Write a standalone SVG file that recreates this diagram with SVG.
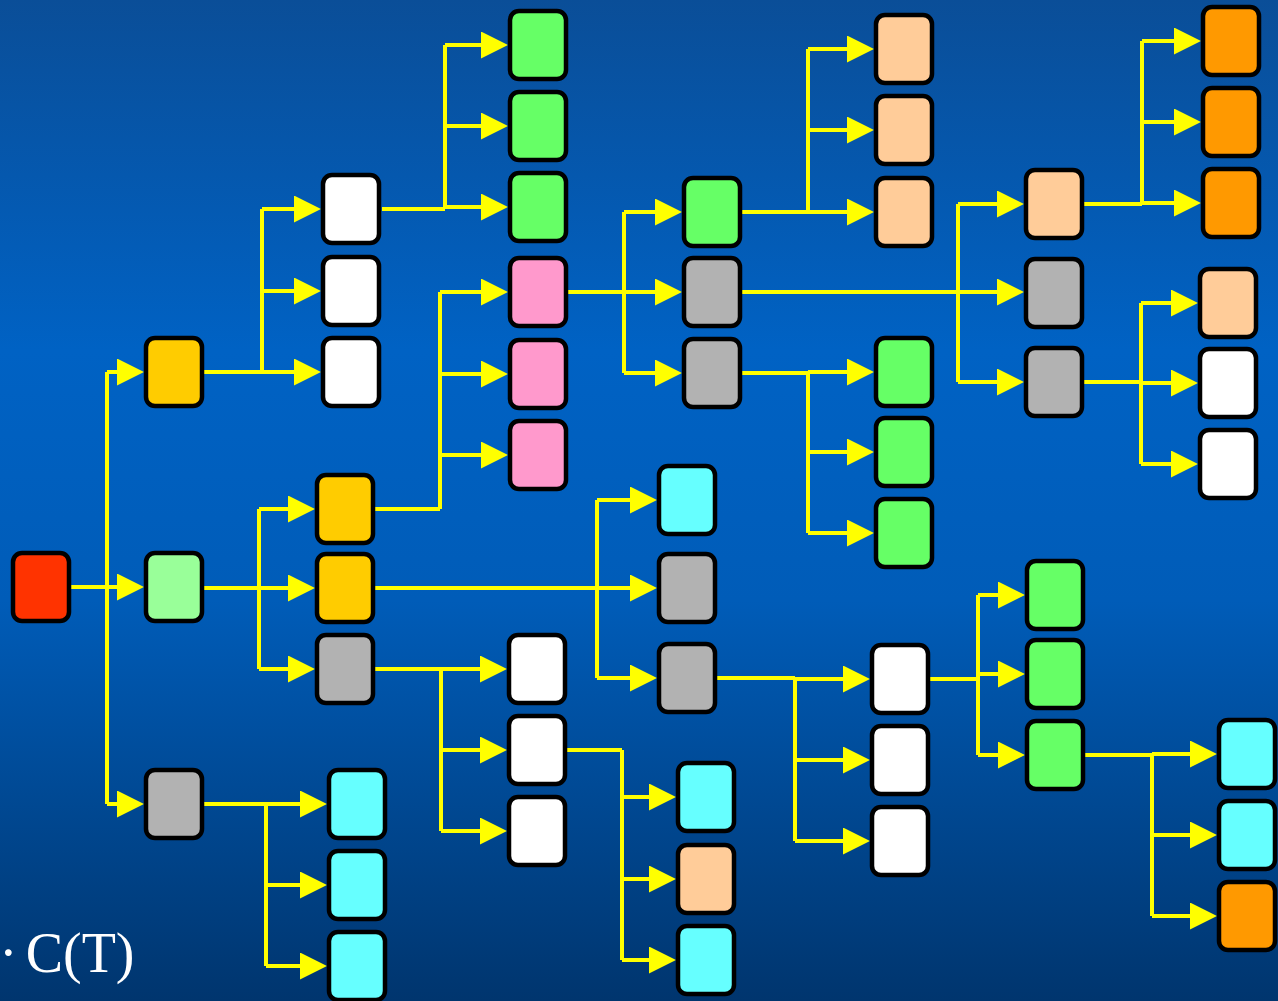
<svg xmlns="http://www.w3.org/2000/svg" width="1278" height="1001" viewBox="0 0 1278 1001">
  <defs>
    <linearGradient id="bg" x1="0" y1="0" x2="0" y2="1">
      <stop offset="0" stop-color="#0a4e98"/>
      <stop offset="0.35" stop-color="#0062c4"/>
      <stop offset="0.6" stop-color="#005cb8"/>
      <stop offset="1" stop-color="#00356e"/>
    </linearGradient>
    <marker id="arrow" viewBox="0 0 27 27" refX="0" refY="13.5" markerWidth="27" markerHeight="27" markerUnits="userSpaceOnUse" orient="auto">
      <path d="M0,0 L27,13.5 L0,27 Z" fill="#ffff00"/>
    </marker>
    <rect id="box" width="56" height="68" rx="9" ry="9"/>
  </defs>
  <style>
    .links path { fill: none; stroke: #ffff00; stroke-width: 4; }
    .links path.br { marker-end: url(#arrow); }
    .node use { stroke: #000; stroke-width: 4.5; }
    .red use { fill: #ff3300; }
    .lgreen use { fill: #99ff99; }
    .orange use { fill: #ffcc00; }
    .white use { fill: #ffffff; }
    .gray use { fill: #b2b2b2; }
    .cyan use { fill: #66ffff; }
    .green use { fill: #66ff66; }
    .pink use { fill: #ff99cc; }
    .peach use { fill: #ffcc99; }
    .dorange use { fill: #ff9900; }
    .label { font-family: "Liberation Serif", "Times New Roman", serif; font-size: 56px; fill: #ffffff; word-spacing: -6px; }
  </style>

  <rect width="1278" height="1001" fill="url(#bg)"/>

  <!-- connectors: stem from parent, vertical trunk, arrowed branch to each child -->
  <g id="connectors" class="links">
    <!-- n0 -->
    <path d="M71,587 H107 M107,372 V804"/>
    <path class="br" d="M107,372 H117"/><path class="br" d="M107,587 H117"/><path class="br" d="M107,804 H117"/>
    <!-- a1 -->
    <path d="M204,372 H262 M262,209 V372"/>
    <path class="br" d="M262,209 H294"/><path class="br" d="M262,291 H294"/><path class="br" d="M262,372 H294"/>
    <!-- a2 -->
    <path d="M204,588 H259 M259,509 V669"/>
    <path class="br" d="M259,509 H288"/><path class="br" d="M259,588 H288"/><path class="br" d="M259,669 H288"/>
    <!-- a3 -->
    <path d="M204,804 H266 M266,804 V966"/>
    <path class="br" d="M266,804 H300"/><path class="br" d="M266,885 H300"/><path class="br" d="M266,966 H300"/>
    <!-- b1 -->
    <path d="M382,209 H445 M445,45 V209"/>
    <path class="br" d="M445,45 H481"/><path class="br" d="M445,126 H481"/><path class="br" d="M445,207 H481"/>
    <!-- b4 -->
    <path d="M375,509 H440 M440,292 V509"/>
    <path class="br" d="M440,292 H481"/><path class="br" d="M440,374 H481"/><path class="br" d="M440,455 H481"/>
    <!-- b5 -->
    <path d="M375,588 H597 M597,500 V678"/>
    <path class="br" d="M597,500 H630"/><path class="br" d="M597,588 H630"/><path class="br" d="M597,678 H630"/>
    <!-- b6 -->
    <path d="M375,669 H441 M441,669 V831"/>
    <path class="br" d="M441,669 H480"/><path class="br" d="M441,750 H480"/><path class="br" d="M441,831 H480"/>
    <!-- c4 -->
    <path d="M568,292 H624 M624,212 V373"/>
    <path class="br" d="M624,212 H655"/><path class="br" d="M624,292 H655"/><path class="br" d="M624,373 H655"/>
    <!-- c8 -->
    <path d="M567,750 H622 M622,750 V960"/>
    <path class="br" d="M622,797 H649"/><path class="br" d="M622,879 H649"/><path class="br" d="M622,960 H649"/>
    <!-- d1 -->
    <path d="M742,212 H808 M808,49 V212"/>
    <path class="br" d="M808,49 H847"/><path class="br" d="M808,130 H847"/><path class="br" d="M808,212 H847"/>
    <!-- d2 -->
    <path d="M742,292 H958 M958,204 V382"/>
    <path class="br" d="M958,204 H997"/><path class="br" d="M958,292 H997"/><path class="br" d="M958,382 H997"/>
    <!-- d3 -->
    <path d="M742,373 H808 M808,372 V533"/>
    <path class="br" d="M808,372 H847"/><path class="br" d="M808,452 H847"/><path class="br" d="M808,533 H847"/>
    <!-- d6 -->
    <path d="M717,678 H795 M795,678 V841"/>
    <path class="br" d="M795,679 H843"/><path class="br" d="M795,760 H843"/><path class="br" d="M795,841 H843"/>
    <!-- e7 -->
    <path d="M930,679 H978 M978,595 V755"/>
    <path class="br" d="M978,595 H998"/><path class="br" d="M978,674 H998"/><path class="br" d="M978,755 H998"/>
    <!-- f1 -->
    <path d="M1084,204 H1142 M1142,41 V204"/>
    <path class="br" d="M1142,41 H1174"/><path class="br" d="M1142,122 H1174"/><path class="br" d="M1142,203 H1174"/>
    <!-- f3 -->
    <path d="M1084,382 H1141 M1141,303 V464"/>
    <path class="br" d="M1141,303 H1171"/><path class="br" d="M1141,383 H1171"/><path class="br" d="M1141,464 H1171"/>
    <!-- f6 -->
    <path d="M1085,755 H1152 M1152,754 V916"/>
    <path class="br" d="M1152,754 H1190"/><path class="br" d="M1152,835 H1190"/><path class="br" d="M1152,916 H1190"/>
  </g>

  <!-- nodes -->
  <g id="n0" class="node red"><use href="#box" x="13" y="553"/></g>

  <g id="a1" class="node orange"><use href="#box" x="146" y="338"/></g>
  <g id="a2" class="node lgreen"><use href="#box" x="146" y="553"/></g>
  <g id="a3" class="node gray"><use href="#box" x="146" y="770"/></g>

  <g id="b1" class="node white"><use href="#box" x="323" y="175"/></g>
  <g id="b2" class="node white"><use href="#box" x="323" y="257"/></g>
  <g id="b3" class="node white"><use href="#box" x="323" y="338"/></g>
  <g id="b4" class="node orange"><use href="#box" x="317" y="475"/></g>
  <g id="b5" class="node orange"><use href="#box" x="317" y="554"/></g>
  <g id="b6" class="node gray"><use href="#box" x="317" y="635"/></g>
  <g id="b7" class="node cyan"><use href="#box" x="329" y="770"/></g>
  <g id="b8" class="node cyan"><use href="#box" x="329" y="851"/></g>
  <g id="b9" class="node cyan"><use href="#box" x="329" y="932"/></g>

  <g id="c1" class="node green"><use href="#box" x="510" y="11"/></g>
  <g id="c2" class="node green"><use href="#box" x="510" y="92"/></g>
  <g id="c3" class="node green"><use href="#box" x="510" y="173"/></g>
  <g id="c4" class="node pink"><use href="#box" x="510" y="258"/></g>
  <g id="c5" class="node pink"><use href="#box" x="510" y="340"/></g>
  <g id="c6" class="node pink"><use href="#box" x="510" y="421"/></g>
  <g id="c7" class="node white"><use href="#box" x="509" y="635"/></g>
  <g id="c8" class="node white"><use href="#box" x="509" y="716"/></g>
  <g id="c9" class="node white"><use href="#box" x="509" y="797"/></g>

  <g id="d1" class="node green"><use href="#box" x="684" y="178"/></g>
  <g id="d2" class="node gray"><use href="#box" x="684" y="258"/></g>
  <g id="d3" class="node gray"><use href="#box" x="684" y="339"/></g>
  <g id="d4" class="node cyan"><use href="#box" x="659" y="466"/></g>
  <g id="d5" class="node gray"><use href="#box" x="659" y="554"/></g>
  <g id="d6" class="node gray"><use href="#box" x="659" y="644"/></g>
  <g id="d7" class="node cyan"><use href="#box" x="678" y="763"/></g>
  <g id="d8" class="node peach"><use href="#box" x="678" y="845"/></g>
  <g id="d9" class="node cyan"><use href="#box" x="678" y="926"/></g>

  <g id="e1" class="node peach"><use href="#box" x="876" y="15"/></g>
  <g id="e2" class="node peach"><use href="#box" x="876" y="96"/></g>
  <g id="e3" class="node peach"><use href="#box" x="876" y="178"/></g>
  <g id="e4" class="node green"><use href="#box" x="876" y="338"/></g>
  <g id="e5" class="node green"><use href="#box" x="876" y="418"/></g>
  <g id="e6" class="node green"><use href="#box" x="876" y="499"/></g>
  <g id="e7" class="node white"><use href="#box" x="872" y="645"/></g>
  <g id="e8" class="node white"><use href="#box" x="872" y="726"/></g>
  <g id="e9" class="node white"><use href="#box" x="872" y="807"/></g>

  <g id="f1" class="node peach"><use href="#box" x="1026" y="170"/></g>
  <g id="f2" class="node gray"><use href="#box" x="1026" y="259"/></g>
  <g id="f3" class="node gray"><use href="#box" x="1026" y="348"/></g>
  <g id="f4" class="node green"><use href="#box" x="1027" y="561"/></g>
  <g id="f5" class="node green"><use href="#box" x="1027" y="640"/></g>
  <g id="f6" class="node green"><use href="#box" x="1027" y="721"/></g>

  <g id="g1" class="node dorange"><use href="#box" x="1203" y="7"/></g>
  <g id="g2" class="node dorange"><use href="#box" x="1203" y="88"/></g>
  <g id="g3" class="node dorange"><use href="#box" x="1203" y="169"/></g>
  <g id="g4" class="node peach"><use href="#box" x="1200" y="269"/></g>
  <g id="g5" class="node white"><use href="#box" x="1200" y="349"/></g>
  <g id="g6" class="node white"><use href="#box" x="1200" y="430"/></g>
  <g id="g7" class="node cyan"><use href="#box" x="1219" y="720"/></g>
  <g id="g8" class="node cyan"><use href="#box" x="1219" y="801"/></g>
  <g id="g9" class="node dorange"><use href="#box" x="1219" y="882"/></g>

  <text class="label" x="-1" y="972">· C(T)</text>
</svg>
